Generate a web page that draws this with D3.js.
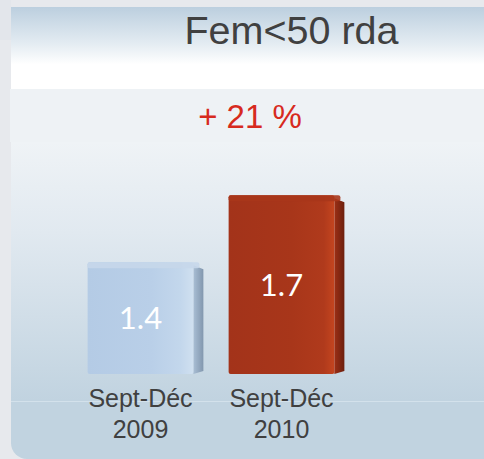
<!DOCTYPE html>
<html>
<head>
<meta charset="utf-8">
<script src="https://cdn.jsdelivr.net/npm/d3@7"></script>
<style>
  html, body { margin: 0; padding: 0; background: #e7e9ed; }
  svg { display: block; }
</style>
</head>
<body>
<div id="chart"></div>
<script>
// Fem<50 rda - two period comparison, pseudo 3D bars

const title = "Fem<50 rda";
const changeLabel = "+ 21 %";
const periods = ["Sept-Déc 2009", "Sept-Déc 2010"];
const periodLines = [["Sept-Déc", "2009"], ["Sept-Déc", "2010"]];
const values = [1.4, 1.7];
const valueLabels = ["1.4", "1.7"];

const width = 484, height = 459;
const depth = 10; // side face width

const svg = d3.select("#chart").append("svg")
    .attr("width", width)
    .attr("height", height);

const defs = svg.append("defs");

function vGrad(id, y1, y2, stops) {
    const g = defs.append("linearGradient").attr("id", id)
        .attr("gradientUnits", "userSpaceOnUse")
        .attr("x1", 0).attr("x2", 0).attr("y1", y1).attr("y2", y2);
    stops.forEach(s => g.append("stop").attr("offset", s[0]).attr("stop-color", s[1]));
}
function hGrad(id, stops) {
    const g = defs.append("linearGradient").attr("id", id)
        .attr("x1", 0).attr("x2", 1).attr("y1", 0).attr("y2", 0);
    stops.forEach(s => g.append("stop").attr("offset", s[0]).attr("stop-color", s[1]));
}

vGrad("headGrad", 7, 89, [[0, "#bccfdf"], [0.45, "#e4ecf2"], [0.7, "#ffffff"], [1, "#ffffff"]]);
vGrad("panelGrad", 142, 400, [[0, "#eff3f6"], [0.35, "#e1e9f0"], [1, "#c1d3e0"]]);

// bar faces
hGrad("front0", [[0, "#b4cbe5"], [0.6, "#b9cfe8"], [0.88, "#c3d7ec"], [1, "#d0e0f0"]]);
hGrad("side0", [[0, "#a9bed4"], [1, "#8297ae"]]);
hGrad("front1", [[0, "#a3331a"], [0.6, "#a8361a"], [0.9, "#b03a1c"], [1, "#c4451f"]]);
hGrad("side1", [[0, "#9c2f15"], [1, "#6c1f0e"]]);

// background layers
svg.append("rect").attr("width", width).attr("height", height).attr("fill", "#e7e9ed");
svg.append("rect").attr("x", 0).attr("y", 0).attr("width", 11).attr("height", 40).attr("fill", "#e3e6eb");

svg.append("rect")
    .attr("x", 11).attr("y", 7).attr("width", width).attr("height", 82)
    .attr("fill", "url(#headGrad)");

svg.append("rect")
    .attr("x", 10).attr("y", 89).attr("width", width).attr("height", 53)
    .attr("fill", "#eef2f5");

const r = 16;
svg.append("path")
    .attr("d", `M11,142 H${width} V${height} H${11 + r} A${r},${r} 0 0 1 11,${height - r} Z`)
    .attr("fill", "url(#panelGrad)");

svg.append("line")
    .attr("x1", 11).attr("x2", width).attr("y1", 401.5).attr("y2", 401.5)
    .attr("stroke", "#d3e1eb").attr("stroke-width", 1);

// scales
const x = d3.scaleBand()
    .domain(periods)
    .range([70, 352])
    .paddingInner(0.25)
    .paddingOuter(0.125);

const y = d3.scaleLinear()
    .domain([0.9, 1.8])
    .range([374, 173]);

// title
svg.append("text")
    .attr("x", 291.5).attr("y", 43.5)
    .attr("text-anchor", "middle")
    .style("font-family", "'Liberation Sans', Arial, sans-serif")
    .style("font-size", "39.5px")
    .attr("fill", "#404040")
    .text(title);

svg.append("text")
    .attr("x", 250).attr("y", 128)
    .attr("text-anchor", "middle")
    .style("font-family", "'Liberation Sans', Arial, sans-serif")
    .style("font-size", "33px")
    .attr("fill", "#d72a1e")
    .text(changeLabel);

// bars
const bars = svg.append("g");
periods.forEach((p, i) => {
    const x0 = x(p);
    const bw = x.bandwidth();
    const yTop = y(values[i]);
    const yBase = y.range()[0];
    const g = bars.append("g");

    // side face
    g.append("path")
        .attr("d", `M${x0 + bw},${yTop + 3} L${x0 + bw + depth},${yTop + 7} L${x0 + bw + depth},${yBase - 3} L${x0 + bw},${yBase} Z`)
        .attr("fill", `url(#side${i})`);

    // front face
    g.append("rect")
        .attr("x", x0).attr("y", yTop)
        .attr("width", bw).attr("height", yBase - yTop)
        .attr("rx", 2)
        .attr("fill", `url(#front${i})`);

    // top bevel
    g.append("rect")
        .attr("x", x0).attr("y", yTop)
        .attr("width", bw + depth * 0.6).attr("height", 6)
        .attr("rx", 2)
        .attr("fill", i === 0 ? "#c6d7ea" : "#a8361b")
        .attr("opacity", 0.9);

    // value label
    g.append("text")
        .attr("x", x0 + bw / 2)
        .attr("y", (yTop + yBase) / 2 + 11)
        .attr("text-anchor", "middle")
        .style("font-family", "Lato, 'Open Sans', sans-serif")
        .style("font-size", "31px")
        .attr("fill", "#ffffff")
        .text(valueLabels[i]);

    // category label
    const t = svg.append("text")
        .attr("text-anchor", "middle")
        .style("font-family", "'Liberation Sans', Arial, sans-serif")
        .style("font-size", "25px")
        .attr("fill", "#404040");
    periodLines[i].forEach((line, j) => {
        t.append("tspan")
            .attr("x", x0 + bw / 2)
            .attr("y", 407 + j * 31)
            .text(line);
    });
});
</script>
</body>
</html>
